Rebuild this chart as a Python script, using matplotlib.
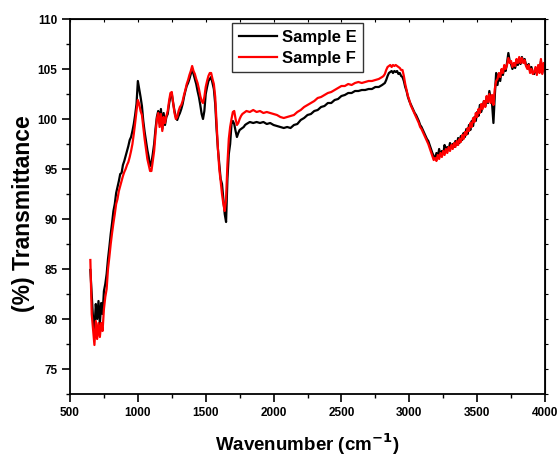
from __future__ import annotations

import numpy as np
import matplotlib
matplotlib.use("Agg")
import matplotlib.pyplot as plt
from matplotlib.ticker import MultipleLocator


# wavenumber sampling grid (cm-1)
WN_LOW = np.arange(650, 1800, 10)
WN_MID = np.arange(1800, 2801, 25)
WN_HIGH = np.arange(2810, 4001, 10)

# Sample E (black)
E_LOW = [
    84.9, 82.5, 80.0, 79.0, 81.5, 80.0, 81.8, 79.5, 81.6, 80.5,
    82.8, 83.5, 84.5, 86.0, 87.2, 88.5, 89.6, 90.8, 91.5, 92.6,
    93.2, 93.8, 94.5, 94.6, 95.4, 95.8, 96.3, 96.8, 97.3, 97.9,
    98.2, 98.8, 99.5, 100.4, 101.5, 103.8, 103.0, 102.2, 101.3, 99.8,
    98.7, 97.8, 96.9, 96.2, 95.3, 95.6, 96.5, 97.5, 99.0, 100.2,
    100.8, 99.6, 101.0, 99.0, 100.6, 99.4, 100.2, 100.5, 101.5, 102.3,
    102.5, 101.6, 100.8, 100.2, 99.9, 100.3, 100.6, 101.0, 101.5, 102.2,
    102.8, 103.3, 103.6, 104.0, 104.5, 105.0, 104.5, 104.0, 103.5, 102.8,
    102.2, 101.4, 100.5, 100.0, 100.8, 102.5, 103.2, 103.8, 104.0, 104.2,
    103.6, 103.0, 101.5, 99.0, 97.0, 95.5, 94.0, 93.5, 92.0, 90.5,
    89.7, 94.0, 96.5, 97.5, 99.5, 99.8, 99.5, 98.8, 98.2, 98.6,
    98.9, 99.0, 99.1, 99.2, 99.4,
]
E_MID = [
    99.5, 99.7, 99.6, 99.7, 99.6, 99.7, 99.5, 99.6, 99.4, 99.3,
    99.2, 99.1, 99.2, 99.1, 99.4, 99.5, 99.9, 100.1, 100.4, 100.5,
    100.8, 100.9, 101.2, 101.3, 101.6, 101.6, 101.9, 102.0, 102.3, 102.4,
    102.6, 102.6, 102.8, 102.8, 102.9, 102.9, 103.0, 103.0, 103.2, 103.2,
    103.4,
]
E_HIGH = [
    103.5, 103.6, 103.9, 104.3, 104.6, 104.7, 104.8, 104.6, 104.8, 104.7,
    104.8, 104.5, 104.6, 104.3, 104.2, 103.8, 103.2, 102.8, 102.2, 101.8,
    101.5, 101.2, 100.9, 100.6, 100.4, 100.1, 99.8, 99.4, 99.2, 98.9,
    98.6, 98.3, 98.0, 97.8, 97.4, 97.0, 96.6, 96.3, 96.0, 96.6,
    96.2, 97.0, 96.3, 96.8, 96.5, 97.4, 96.9, 97.2, 96.9, 97.6,
    97.1, 97.5, 97.2, 97.8, 97.4, 98.1, 97.6, 98.3, 97.9, 98.6,
    98.2, 99.0, 98.5, 99.4, 98.9, 99.8, 99.3, 100.2, 99.8, 100.7,
    100.3, 101.4, 100.7, 101.2, 101.8, 101.3, 102.2, 101.6, 102.8, 102.0,
    101.5, 99.6, 102.3, 104.6, 103.4, 104.5, 103.8, 104.9, 104.4, 105.2,
    104.8, 105.6, 106.6, 105.8, 105.5, 105.0, 105.4, 105.1, 105.8, 105.4,
    106.0, 105.5, 106.2, 105.7, 106.0, 105.4, 105.2, 105.5, 104.8, 105.2,
    104.6, 104.5, 105.0, 104.6, 105.3, 104.8, 105.8, 104.6, 105.5, 104.9,
]

# Sample F (red)
F_LOW = [
    85.9, 80.5, 79.0, 77.4, 79.8, 78.0, 79.6, 78.2, 79.6, 78.8,
    81.0, 82.2, 83.0, 85.0, 86.2, 87.5, 88.6, 89.6, 90.5, 91.5,
    92.0, 92.8, 93.3, 93.8, 94.3, 94.7, 95.0, 95.4, 95.7, 96.2,
    96.8, 97.5, 98.5, 99.6, 100.8, 101.9, 101.5, 100.8, 100.4, 99.2,
    98.0, 97.0, 96.0, 95.4, 94.8, 94.8, 95.8, 96.8, 98.5, 100.0,
    100.6, 99.2, 100.5, 98.8, 100.2, 99.6, 100.3, 100.8, 101.8, 102.6,
    102.7, 101.6, 100.6, 100.0, 100.2, 100.8, 101.2, 101.4, 101.8, 102.4,
    102.9, 103.5, 103.9, 104.4, 104.8, 105.3, 104.8, 104.5, 104.0, 103.6,
    103.0, 102.3, 101.8, 101.6, 102.2, 103.2, 103.8, 104.3, 104.6, 104.6,
    104.0, 103.5, 102.2, 99.5, 97.0, 95.0, 93.8, 92.5, 91.5, 90.8,
    92.0, 95.5, 98.0, 99.2, 100.0, 100.7, 100.8, 100.0, 99.4, 99.6,
    100.0, 100.3, 100.5, 100.6, 100.7,
]
F_MID = [
    100.8, 100.7, 100.9, 100.7, 100.8, 100.6, 100.7, 100.6, 100.5, 100.4,
    100.2, 100.1, 100.2, 100.3, 100.4, 100.7, 100.9, 101.2, 101.4, 101.6,
    101.8, 102.1, 102.2, 102.4, 102.6, 102.7, 102.9, 103.1, 103.3, 103.3,
    103.5, 103.4, 103.6, 103.7, 103.6, 103.7, 103.8, 103.8, 103.9, 104.0,
    104.2,
]
F_HIGH = [
    104.3, 104.5, 104.9, 105.2, 105.3, 105.4, 105.2, 105.4, 105.3, 105.4,
    105.3, 105.2, 105.1, 104.9, 104.9, 104.3, 103.5, 102.9, 102.3, 101.9,
    101.4, 101.1, 100.8, 100.5, 100.2, 99.9, 99.6, 99.2, 99.0, 98.7,
    98.4, 98.1, 97.8, 97.5, 97.1, 96.7, 96.3, 95.9, 96.1, 95.8,
    96.4, 96.0, 96.6, 96.2, 96.8, 96.4, 97.0, 96.6, 97.2, 96.8,
    97.4, 97.0, 97.6, 97.2, 97.8, 97.4, 98.0, 97.7, 98.4, 98.0,
    98.7, 98.4, 99.1, 98.8, 99.6, 99.2, 100.1, 99.7, 100.6, 100.2,
    101.0, 100.6, 101.5, 101.0, 101.8, 101.2, 102.3, 101.7, 102.5, 101.6,
    102.4, 101.4, 103.0, 103.8, 104.0, 104.6, 104.2, 105.0, 104.6, 105.4,
    105.0, 105.4, 106.1, 105.6, 105.8, 105.2, 105.6, 105.3, 106.0, 105.6,
    106.2, 105.6, 106.1, 105.6, 105.9, 105.3, 105.0, 105.4, 104.6, 105.0,
    104.5, 104.7, 105.2, 104.4, 105.4, 104.6, 106.0, 104.5, 105.6, 104.8,
]

FONT = ["Liberation Sans", "DejaVu Sans"]


def main() -> None:
    plt.rcParams["font.family"] = FONT
    plt.rcParams["font.weight"] = "bold"
    plt.rcParams["mathtext.default"] = "bf"

    wn = np.concatenate([WN_LOW, WN_MID, WN_HIGH])
    sample_e = np.array(E_LOW + E_MID + E_HIGH)
    sample_f = np.array(F_LOW + F_MID + F_HIGH)

    fig = plt.figure(figsize=(5.6, 4.59), dpi=100)
    ax = fig.add_axes([70 / 560, 65 / 459, 475 / 560, 375 / 459])

    ax.plot(wn, sample_e, color="black", linewidth=1.6, label="Sample E")
    ax.plot(wn, sample_f, color="red", linewidth=1.6, label="Sample F")

    ax.set_xlim(500, 4000)
    ax.set_ylim(72.5, 110)
    ax.xaxis.set_major_locator(MultipleLocator(500))
    ax.xaxis.set_minor_locator(MultipleLocator(250))
    ax.yaxis.set_major_locator(MultipleLocator(5))
    ax.yaxis.set_minor_locator(MultipleLocator(2.5))

    ax.tick_params(axis="both", which="major", direction="out", length=6,
                   width=1.2, labelsize=8.5, pad=3)
    ax.tick_params(axis="both", which="minor", direction="out", length=3,
                   width=1.0)
    for lbl in ax.get_xticklabels() + ax.get_yticklabels():
        lbl.set_fontweight("bold")
    for sp in ax.spines.values():
        sp.set_linewidth(1.3)

    # small unlabeled ticks on top (inward) and right (outward)
    top = ax.secondary_xaxis("top")
    top.xaxis.set_major_locator(MultipleLocator(250))
    top.tick_params(direction="in", length=2, width=0.8, labeltop=False)
    right = ax.secondary_yaxis("right")
    right.yaxis.set_major_locator(MultipleLocator(2.5))
    right.tick_params(direction="out", length=2, width=0.8, labelright=False)

    ax.set_xlabel("Wavenumber (cm$^{-1}$)", fontsize=13.5, fontweight="bold")
    ax.xaxis.set_label_coords(0.5, -0.1)
    ax.set_ylabel("(%) Transmittance", fontsize=16.5, fontweight="bold")
    ax.yaxis.set_label_coords(-0.074, 0.48)

    leg = ax.legend(loc="upper left", bbox_to_anchor=(0.341, 0.989),
                    fontsize=12, frameon=True, fancybox=False,
                    borderpad=0.4, handlelength=2.3, handletextpad=0.3,
                    labelspacing=0.35, borderaxespad=0)
    leg.get_frame().set_edgecolor("black")
    leg.get_frame().set_linewidth(1.0)
    for t in leg.get_texts():
        t.set_fontweight("bold")

    fig.savefig("out.png", dpi=100)
    plt.close(fig)


if __name__ == "__main__":
    main()
